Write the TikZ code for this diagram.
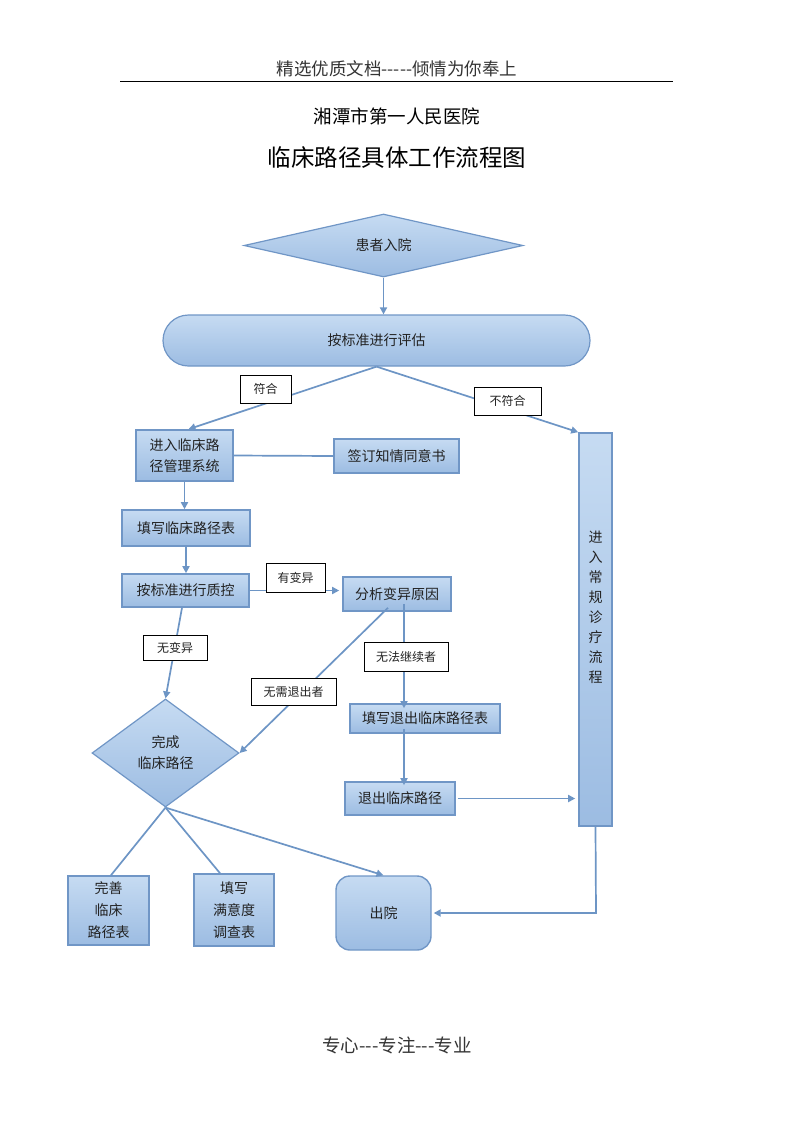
\documentclass[tikz,border=0pt]{standalone}
\usepackage{fontspec}
\newfontfamily\cjk{Noto Sans CJK SC}
\usetikzlibrary{shapes.geometric,shapes.misc,arrows.meta}
\definecolor{ftop}{HTML}{C6DBF2}
\definecolor{fbot}{HTML}{9CBCE2}
\definecolor{bord}{HTML}{7096C6}
\definecolor{conn}{HTML}{6D95C5}
\definecolor{txt}{HTML}{222222}
\tikzset{
  base/.style={font=\cjk\fontsize{14}{21}\selectfont, text=txt, align=center, inner sep=0pt},
  boxn/.style={base, rectangle, draw=bord, line width=1.6pt, top color=ftop, bottom color=fbot},
  dia/.style={base, diamond, draw=bord, line width=1.2pt, top color=ftop, bottom color=fbot},
  lab/.style={font=\cjk\fontsize{12}{14}\selectfont, text=txt, draw=black, line width=0.8pt, fill=white, inner sep=0pt},
  conline/.style={draw=conn, line width=1.7pt},
  arr/.style={conline, -{Triangle[length=7pt,width=7pt]}}
}
\begin{document}
\begin{tikzpicture}[x=1pt,y=-1pt]
\useasboundingbox (0,0) rectangle (793,1122);
% header
\node[font=\cjk\fontsize{17.5}{20}\selectfont, text=black!80] (hdr) at (397,69) {精选优质文档-----倾情为你奉上};
\draw[line width=0.9pt] (120,81) -- (673,81);
\node[font=\cjk\fontsize{18.5}{22}\selectfont] (hosp) at (397,116) {湘潭市第一人民医院};
\node[font=\cjk\fontsize{23.5}{26}\selectfont] (title) at (397,158) {临床路径具体工作流程图};
\node[font=\cjk\fontsize{18.5}{20}\selectfont, text=black!80] (ftr) at (397,1045) {专心---专注---专业};

% nodes
\node[dia, shape aspect=4.4, minimum width=279pt, minimum height=63pt] (admit) at (383.5,245.5) {患者入院};
\node[base, rounded rectangle, draw=bord, line width=1.2pt, top color=ftop, bottom color=fbot, minimum width=427pt, minimum height=51pt] (eval) at (376.5,340.5) {按标准进行评估};
\node[boxn, minimum width=97pt, minimum height=51pt] (enter) at (184.5,455.5) {进入临床路\\径管理系统};
\node[boxn, minimum width=125pt, minimum height=34pt] (consent) at (396.5,456) {签订知情同意书};
\node[boxn, minimum width=128pt, minimum height=36pt] (fill) at (186,528) {填写临床路径表};
\node[boxn, minimum width=127pt, minimum height=33pt] (qc) at (185.5,590.5) {按标准进行质控};
\node[boxn, minimum width=108pt, minimum height=34pt] (analyze) at (397,594) {分析变异原因};
\node[boxn, minimum width=150pt, minimum height=29pt] (exitform) at (425,718.5) {填写退出临床路径表};
\node[boxn, minimum width=110pt, minimum height=33pt] (exitp) at (400,798.5) {退出临床路径};
\node[boxn, minimum width=33pt, minimum height=393pt,
  label={[base, font=\cjk\fontsize{14}{20}\selectfont, yshift=22pt]center:{进\\入\\常\\规\\诊\\疗\\流\\程}}] (routine) at (595.5,629.5) {};
\node[dia, minimum width=147pt, minimum height=108pt] (done) at (165.5,753) {完成\\临床路径};
\node[boxn, minimum width=81pt, minimum height=69pt, font=\cjk\fontsize{14}{22}\selectfont] (perfect) at (108.5,910.5) {完善\\临床\\路径表};
\node[boxn, minimum width=80pt, minimum height=72pt, font=\cjk\fontsize{14}{22}\selectfont] (survey) at (234,910) {填写\\满意度\\调查表};
\node[base, rectangle, rounded corners=14pt, draw=bord, line width=1.4pt, top color=ftop, bottom color=fbot, minimum width=95pt, minimum height=74pt] (discharge) at (383.5,913) {出院};

% connectors
\draw[arr] (admit.south) -- (admit.south |- eval.north);
\draw[arr] (eval.south) -- ([xshift=4pt]enter.north);
\draw[arr] (eval.south) -- (routine.north west);
\draw[conline] (enter.east) -- (consent.west);
\draw[arr] (enter.south) -- (enter.south |- fill.north);
\draw[arr] (fill.south) -- (fill.south |- qc.north);
\draw[arr] (qc.east) -- ([xshift=-3pt]qc.east -| analyze.west);
\draw[arr] ([xshift=-3.5pt]qc.south) -- (done.north);
\draw[arr] ([xshift=-9pt,yshift=4pt]analyze.south) -- (done.east);
\draw[arr] ([xshift=7pt,yshift=8pt]analyze.south) -- ([yshift=-5pt]exitform.north -| 404,0);
\draw[arr] ([yshift=5pt]exitform.south -| 404,0) -- ([yshift=-4pt]exitp.north -| 404,0);
\draw[arr] ([xshift=2pt]exitp.east) -- ([xshift=-3pt]routine.west |- exitp.east);
\coordinate (turn) at (596,913);
\draw[arr] (routine.south) -- (turn) -- ([xshift=2pt]discharge.east);
\draw[conline] (done.south) -- ([xshift=2.5pt]perfect.north);
\draw[conline] (done.south) -- ([xshift=-14pt]survey.north);
\draw[arr] (done.south) -- (discharge.north);

% labels
\node[lab, minimum width=51pt, minimum height=28pt] (lfuhe) at (265.5,389) {符合};
\node[lab, minimum width=67pt, minimum height=28pt] (lbufuhe) at (507.5,401) {不符合};
\node[lab, minimum width=59pt, minimum height=29pt] (lyou) at (295.5,577.5) {有变异};
\node[lab, minimum width=64pt, minimum height=25pt] (lwu) at (175,647.5) {无变异};
\node[lab, minimum width=85pt, minimum height=27pt] (lwuxu) at (293.5,691.5) {无需退出者};
\node[lab, minimum width=84pt, minimum height=29pt] (lwufa) at (406,656.5) {无法继续者};
\end{tikzpicture}
\end{document}
